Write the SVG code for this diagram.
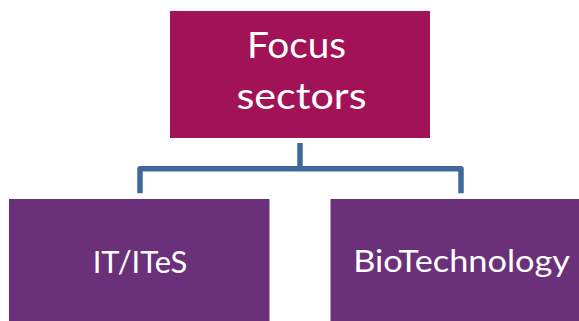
<svg xmlns="http://www.w3.org/2000/svg" width="579" height="321" viewBox="0 0 579 321">
<style>
.lbl{font-family:Lato,"Open Sans","Liberation Sans",sans-serif;fill:#ffffff;text-anchor:middle}
.conn{fill:none;stroke:#41689A;stroke-width:5.5;stroke-linejoin:round}
</style>
<rect width="579" height="321" fill="#ffffff"/>
<g id="focus">
<rect x="170" y="11" width="260" height="127" fill="#A11356"/>
<text class="lbl" x="296.5" y="58.3" font-size="36" textLength="99" lengthAdjust="spacingAndGlyphs">Focus</text>
<text class="lbl" x="301.5" y="109.3" font-size="36" textLength="130" lengthAdjust="spacingAndGlyphs">sectors</text>
</g>
<g id="connectors">
<path class="conn" d="M300 143 V168.8 M140 193.3 V168.8 H461 V193.3"/>
</g>
<g id="itites">
<rect x="9" y="199" width="260.5" height="122" fill="#6A307A"/>
<text class="lbl" x="140" y="273.3" font-size="31" textLength="94.6" lengthAdjust="spacingAndGlyphs">IT/ITeS</text>
</g>
<g id="biotech">
<rect x="330.5" y="199" width="248.5" height="122" fill="#6A307A"/>
<text class="lbl" x="461.6" y="272.3" font-size="31" textLength="216.7" lengthAdjust="spacingAndGlyphs">BioTechnology</text>
</g>
</svg>
